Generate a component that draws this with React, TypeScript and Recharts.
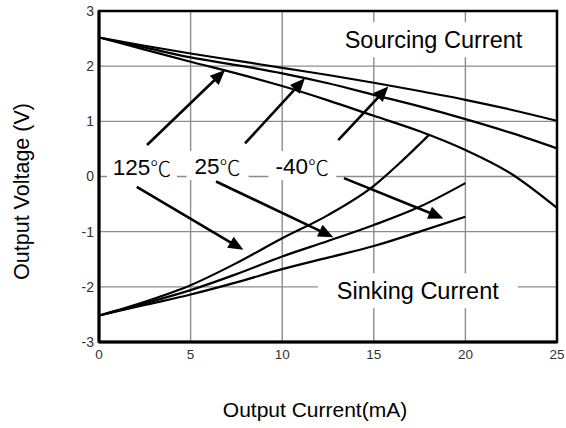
import React from 'react';
import { LineChart, Line, XAxis, YAxis, CartesianGrid, ReferenceLine, ReferenceDot, ReferenceArea, Label } from 'recharts';

// output current (mA) / output voltage (V)
const sourceCurrent = [0, 2.5, 5, 7.5, 10, 12.5, 15, 17.5, 20, 22.5, 25];
const sourceM40 = [2.52, 2.37, 2.23, 2.1, 1.97, 1.84, 1.7, 1.55, 1.39, 1.21, 1.01];
const source25 = [2.52, 2.34, 2.16, 2.02, 1.87, 1.69, 1.48, 1.27, 1.04, 0.79, 0.51];
const source125 = [2.52, 2.3, 2.08, 1.87, 1.64, 1.38, 1.1, 0.82, 0.48, 0.05, -0.57];

const sinkCurrent = [0, 2.5, 5, 7.5, 10, 12.5, 15, 17.5, 20];
const sinkCurrent125 = [0, 2.5, 5, 7.5, 10, 12.5, 15, 16.5, 18];
const sinkM40 = [-2.52, -2.33, -2.14, -1.92, -1.68, -1.47, -1.26, -1.0, -0.73];
const sink25 = [-2.52, -2.3, -2.06, -1.77, -1.45, -1.17, -0.88, -0.55, -0.12];
const sink125 = [-2.52, -2.27, -1.97, -1.57, -1.12, -0.7, -0.17, 0.27, 0.75];

const xTicks = [0, 5, 10, 15, 20, 25];
const yTicks = [-3, -2, -1, 0, 1, 2, 3];

// annotation arrows, [current, voltage] from -> to
const arrowFrom = [[2.62, 0.57], [7.97, 0.6], [13.06, 0.66], [2.06, -0.19], [6.39, -0.09], [13.37, -0.03]];
const arrowTo = [[6.88, 1.93], [11.24, 1.78], [15.79, 1.63], [7.88, -1.33], [12.79, -1.1], [18.8, -0.76]];

const tempLabels = ['125', '25', '-40'];
const tempAt = [[2.35, 0.17], [6.47, 0.19], [11.1, 0.19]];
const regionLabels = ['Sourcing Current', 'Sinking Current'];
const regionAt = [[18.26, 2.47], [17.4, -2.08]];

const toPoints = (xs: number[], ys: number[]) => xs.map((i, k) => ({ i, v: ys[k] }));

const series = [
  toPoints(sourceCurrent, sourceM40),
  toPoints(sourceCurrent, source25),
  toPoints(sourceCurrent, source125),
  toPoints(sinkCurrent, sinkM40),
  toPoints(sinkCurrent, sink25),
  toPoints(sinkCurrent125, sink125),
];

const FONT = '"Liberation Sans", Arial, sans-serif';

const arrowShape = (props: any) => {
  const { x1, y1, x2, y2 } = props;
  const dx = x2 - x1;
  const dy = y2 - y1;
  const len = Math.hypot(dx, dy) || 1;
  const ux = dx / len;
  const uy = dy / len;
  const hl = 15;
  const hw = 6.5;
  const bx = x2 - ux * hl;
  const by = y2 - uy * hl;
  return (
    <g>
      <line x1={x1} y1={y1} x2={bx + ux * 2} y2={by + uy * 2} stroke="#000" strokeWidth={2.6} />
      <polygon points={`${x2},${y2} ${bx - uy * hw},${by + ux * hw} ${bx + uy * hw},${by - ux * hw}`} fill="#000" />
    </g>
  );
};

const tempShape = (text: string, boxW: number) => (props: any) => {
  const { cx, cy } = props;
  return (
    <g>
      <rect x={cx - boxW / 2} y={cy - 15} width={boxW} height={29} fill="#fff" />
      <text x={cx} y={cy} textAnchor="middle" dominantBaseline="central" fontFamily={FONT} fontSize={22.5} fill="#000">
        {text}
        <tspan fontFamily='"Noto Sans CJK SC", "DejaVu Sans"' fontSize={21} fontWeight={300}>℃</tspan>
      </text>
    </g>
  );
};

const regionShape = (text: string, boxW: number) => (props: any) => {
  const { cx, cy } = props;
  return (
    <g>
      <rect x={cx - boxW / 2} y={cy - 18} width={boxW} height={35} fill="#fff" />
      <text x={cx} y={cy} textAnchor="middle" dominantBaseline="central" fontFamily={FONT} fontSize={23.5} fill="#000">
        {text}
      </text>
    </g>
  );
};

const tempBoxW = [70, 62, 68];
const regionBoxW = [200, 200];

export default function App() {
  return (
    <div style={{ position: 'absolute', left: 0, top: 0, background: '#fff' }}>
      <LineChart width={566} height={428} margin={{ top: 11, right: 9, bottom: 56, left: 22 }}>
        <CartesianGrid stroke="#8c8c8c" strokeWidth={1.4} />
        <XAxis
          dataKey="i"
          type="number"
          domain={[0, 25]}
          ticks={xTicks}
          height={30}
          tickLine={false}
          tickSize={0}
          tickMargin={7}
          axisLine={{ stroke: '#000', strokeWidth: 3 }}
          tick={{ fill: '#333', fontSize: 13.5, fontFamily: FONT }}
          allowDataOverflow
        >
          <Label
            content={(p: any) => {
              const vb = p.viewBox;
              return (
                <text x={vb.x + vb.width / 2 - 13} y={vb.y + 75} textAnchor="middle" fontFamily={FONT} fontSize={21} fill="#000">
                  Output Current(mA)
                </text>
              );
            }}
          />
        </XAxis>
        <YAxis
          type="number"
          domain={[-3, 3]}
          ticks={yTicks}
          width={77}
          tickLine={false}
          tickSize={0}
          tickMargin={5}
          axisLine={{ stroke: '#000', strokeWidth: 3 }}
          tick={{ fill: '#333', fontSize: 14, fontFamily: FONT }}
          allowDataOverflow
        >
          <Label
            content={(p: any) => {
              const vb = p.viewBox;
              const x = vb.x;
              const y = vb.y + vb.height / 2 + 15;
              return (
                <text x={x} y={y} transform={`rotate(-90, ${x}, ${y})`} textAnchor="middle" dominantBaseline="central" fontFamily={FONT} fontSize={21.5} fill="#000">
                  Output Voltage (V)
                </text>
              );
            }}
          />
        </YAxis>
        <ReferenceArea x1={0} x2={25} y1={-3} y2={3} fill="none" fillOpacity={0} stroke="#000" strokeWidth={2.5} ifOverflow="visible" />
        {series.map((d, k) => (
          <Line key={k} data={d} dataKey="v" type="monotone" stroke="#000" strokeWidth={2.2} dot={false} isAnimationActive={false} />
        ))}
        {arrowFrom.map((f, k) => (
          <ReferenceLine
            key={`a${k}`}
            segment={[{ x: f[0], y: f[1] }, { x: arrowTo[k][0], y: arrowTo[k][1] }]}
            shape={arrowShape}
            ifOverflow="visible"
          />
        ))}
        {tempLabels.map((t, k) => (
          <ReferenceDot key={`t${k}`} x={tempAt[k][0]} y={tempAt[k][1]} shape={tempShape(t, tempBoxW[k])} ifOverflow="visible" />
        ))}
        {regionLabels.map((t, k) => (
          <ReferenceDot key={`r${k}`} x={regionAt[k][0]} y={regionAt[k][1]} shape={regionShape(t, regionBoxW[k])} ifOverflow="visible" />
        ))}
      </LineChart>
    </div>
  );
}
